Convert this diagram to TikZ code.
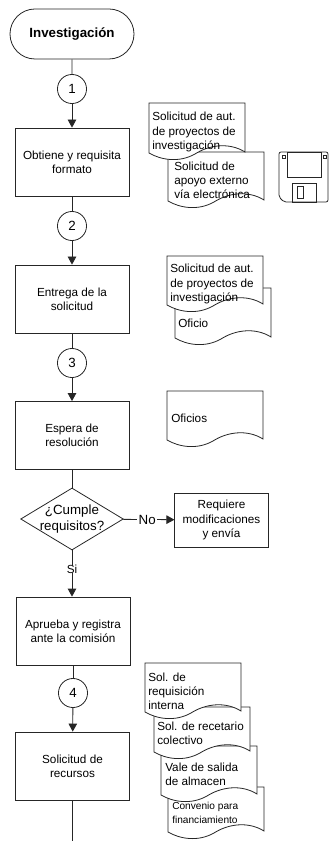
\documentclass[tikz,border=0pt]{standalone}
\usepackage{fontspec}
\setmainfont{Liberation Sans}
\usetikzlibrary{shapes.geometric,shapes.misc,arrows.meta}
\tikzset{every node/.style={inner sep=0pt,font=\fontsize{8.8}{10.6}\selectfont,align=center}}
\tikzset{ln/.style={line width=0.6pt,draw=black!85}}
\tikzset{a/.style={ln,-{Triangle[length=6pt,width=6.4pt]}}}
\tikzset{box/.style={rectangle,ln,minimum width=85.5pt,minimum height=51pt}}
\tikzset{conn/.style={circle,ln,minimum size=21.8pt,font=\fontsize{10}{12}\selectfont}}
\tikzset{term/.style={rounded rectangle,ln,minimum width=93pt,minimum height=37.5pt,font=\fontsize{10}{12}\selectfont\bfseries}}
\tikzset{decision/.style={diamond,ln,minimum width=77pt,minimum height=46.5pt}}
\tikzset{l/.style={fill=white,inner xsep=1pt,font=\fontsize{10}{12}\selectfont}}
\tikzset{doctext/.style={anchor=west,align=left}}
\newcommand{\smalldoc}{\fontsize{7.6}{9.4}\selectfont}
% document sheet: name, left, top, height, text position, text
\newcommand{\docsheet}[6]{%
  \begin{scope}[shift={(#2,#3)}]
    \draw[ln,fill=white] (0,0) -- (96,0) -- (96,#4-1)
      .. controls (80,#4-11) and (60,#4-8) .. (46,#4+1)
      .. controls (30,#4+10) and (12,#4+7) .. (0,#4) -- cycle;
    \node[doctext] (#1) at (#5) {#6};
  \end{scope}}

\begin{document}
\begin{tikzpicture}[x=0.75pt,y=-0.75pt]
      \useasboundingbox (0,0) rectangle (330,841);
      \node[term] (I) at (72,34) {Investigación};
      \node[conn] (C1) at (72,89) {1};
      \node[box] (P1) at (72,162) {Obtiene y requisita\\formato};
      \node[conn] (C2) at (72,226) {2};
      \node[box] (P2) at (72,299) {Entrega de la\\solicitud};
      \node[conn] (C3) at (72,363) {3};
      \node[box] (P3) at (72,435.5) {Espera de\\resolución};
      \node[decision,label={[align=center,font=\fontsize{10}{12}\selectfont]center:¿Cumple\\requisitos?}] (Q) at (72,519) {};
      \node[rectangle,ln,minimum width=70pt,minimum height=40.5pt] (R) at (221.5,520) {Requiere\\modificaciones\\y envía};
      \node[box] (P4) at (73,631) {Aprueba y registra\\ante la comisión};
      \node[conn] (C4) at (73,693) {4};
      \node[box] (P5) at (72.5,766) {Solicitud de\\recursos};
      \coordinate (E) at (P5.south |- 0,841);
      \draw[ln] (I) -- (C1);
      \draw[a] (C1) -- (P1);
      \draw[ln] (P1) -- (C2);
      \draw[a] (C2) -- (P2);
      \draw[ln] (P2) -- (C3);
      \draw[a] (C3) -- (P3);
      \draw[ln] (P3) -- (Q);
      \draw[a] (Q) -- node[l,pos=.47] {No} (R);
      \draw[a] (Q.south) -- node[l,pos=.4,font=\fontsize{8.8}{10.6}\selectfont] {Si} (Q.south |- P4.north);
      \draw[ln] (P4) -- (C4);
      \draw[a] (C4) -- (P5);
      \draw[ln] (P5) -- (E);
      % papers, back one first
      \docsheet{DB}{168}{152}{49}{6,28}{Solicitud de\\apoyo externo\\vía electrónica}
      \docsheet{DA}{149}{103}{50}{3,29}{Solicitud de aut.\\de proyectos de\\investigación}
      \docsheet{DD}{175}{288}{50}{3,35}{Oficio}
      \docsheet{DC}{167}{256}{49}{3,28}{Solicitud de aut.\\de proyectos de\\investigación}
      \docsheet{DE}{167}{391}{49}{4,27}{Oficios}
      \docsheet{DI}{168}{787}{45}{4,26}{\smalldoc Convenio para\\\smalldoc financiamiento}
      \docsheet{DH}{161}{746}{49}{4,28}{Vale de salida\\de almacen}
      \docsheet{DG}{154}{707}{45}{3,26}{Sol. de recetario\\colectivo}
      \docsheet{DF}{145}{663}{49}{3,28}{Sol. de\\requisición\\interna}
      % diskette
      \draw[ln,rounded corners=1.5pt] (279,152) -- (328,152) -- (328,202) -- (284,202) -- (279,197) -- cycle;
      \draw[ln] (287,152) rectangle (321,177);
      \draw[ln] (292,183) rectangle (316,202);
      \draw[ln] (297,186) rectangle (303,198);
      \draw[ln] (282,155) rectangle (285,158);
      \draw[ln] (323,155) rectangle (326,158);
\end{tikzpicture}
\end{document}
